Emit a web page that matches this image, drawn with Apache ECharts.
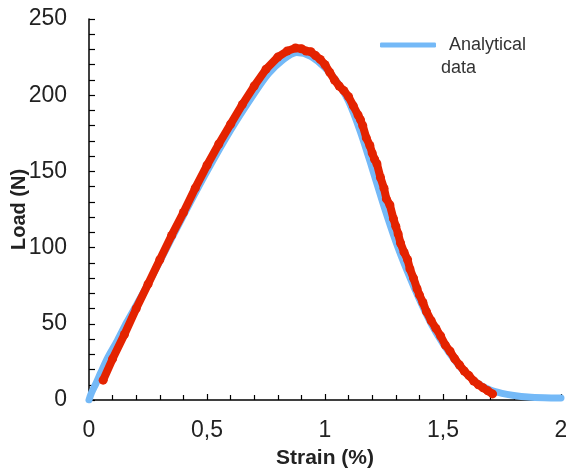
<!DOCTYPE html>
<html>
<head>
<meta charset="utf-8">
<script src="https://cdn.jsdelivr.net/npm/echarts@6/dist/echarts.min.js"></script>
<style>
  html, body { margin: 0; padding: 0; background: #fff; }
  #chart { width: 566px; height: 470px; }
</style>
</head>
<body>
<div id="chart"></div>
<script>
// strain (%) / load (N)
const analyticalStrain = [0, 0.01, 0.03, 0.05, 0.08, 0.12, 0.16, 0.2, 0.25, 0.3, 0.4, 0.5, 0.6, 0.7, 0.76, 0.82, 0.88, 0.94, 1.0, 1.05, 1.1, 1.15, 1.2, 1.25, 1.3, 1.35, 1.4, 1.45, 1.5, 1.55, 1.6, 1.65, 1.7, 1.75, 1.8, 1.86, 1.93, 2.0];
const analyticalLoad   = [0, 4.5, 11, 18, 28, 39, 51, 62, 76, 91, 121, 150, 177, 201, 214, 223, 228, 225.5, 218, 209, 196, 176, 152, 127, 104, 84, 66, 50, 37, 26, 17, 10.5, 6.5, 4.3, 3, 2, 1.5, 1.3];

const testStrain = [0.06, 0.1, 0.15, 0.2, 0.25, 0.3, 0.35, 0.4, 0.45, 0.5, 0.55, 0.6, 0.65, 0.7, 0.75, 0.8, 0.84, 0.875,
  0.9, 0.92, 0.94, 0.96, 0.98, 1.0, 1.02, 1.04, 1.06, 1.08, 1.1, 1.12, 1.14, 1.15, 1.16, 1.175, 1.19, 1.2, 1.21, 1.22, 1.235,
  1.25, 1.26, 1.275, 1.29, 1.3, 1.31, 1.32, 1.335, 1.35, 1.36, 1.375, 1.39, 1.4, 1.415, 1.43, 1.45, 1.47, 1.49, 1.51, 1.53,
  1.55, 1.57, 1.59, 1.61, 1.63, 1.65, 1.67, 1.69, 1.71];
const testLoad = [13, 27, 43, 60, 76, 92, 108, 123, 139, 154, 168, 181, 194, 206, 217, 225, 229, 231,
  230.5, 229, 228.5, 226, 223.5, 220, 215, 210, 206, 203, 199, 193, 187, 184, 180, 172, 167, 162, 158, 155, 146,
  139, 132, 128, 119, 114, 109, 103, 97, 92, 86, 80, 73, 69, 64, 58, 52, 47, 42, 36, 32,
  27, 23, 19, 16, 12.5, 10, 8, 6, 4];

const xTicks = [0, 0.5, 1, 1.5, 2];
const yTicks = [0, 50, 100, 150, 200, 250];

const pair = (xs, ys) => xs.map((x, i) => [x, ys[i]]);

const chart = echarts.init(document.getElementById('chart'));
const fam = 'Liberation Sans, Arial, sans-serif';
const axisFont = { fontFamily: fam, fontSize: 23, color: '#222' };

chart.setOption({
  animation: false,
  backgroundColor: '#fff',
  grid: { left: 89, right: 5, top: 19, bottom: 70, outerBoundsMode: 'none', containLabel: false },
  legend: {
    data: ['Analytical data'],
    left: 380,
    top: 13,
    padding: 0,
    itemWidth: 56,
    itemHeight: 5,
    icon: 'roundRect',
    formatter: () => '{a| }\n{a|Analytical}\n{b|data}',
    textStyle: {
      fontFamily: fam,
      fontSize: 18,
      color: '#333',
      rich: {
        a: { fontSize: 18, lineHeight: 23, padding: [0, 0, 0, 8], color: '#333' },
        b: { fontSize: 18, lineHeight: 23, color: '#333' }
      }
    }
  },
  xAxis: {
    type: 'value',
    min: xTicks[0],
    max: xTicks[xTicks.length - 1],
    interval: 0.5,
    name: 'Strain (%)',
    nameLocation: 'middle',
    nameGap: 48,
    nameMoveOverlap: false,
    nameTextStyle: { fontFamily: fam, fontSize: 21, fontWeight: 'bold', color: '#222' },
    axisLine: { lineStyle: { color: '#000', width: 1.5 } },
    axisTick: { inside: true, length: 6, lineStyle: { color: '#000', width: 1.2 } },
    minorTick: { show: true, splitNumber: 5, length: 5, lineStyle: { color: '#000', width: 1.2 } },
    axisLabel: Object.assign({ margin: 19, formatter: v => String(v).replace('.', ',') }, axisFont),
    splitLine: { show: false }
  },
  yAxis: {
    type: 'value',
    min: yTicks[0],
    max: yTicks[yTicks.length - 1],
    interval: 50,
    name: 'Load (N)',
    nameLocation: 'middle',
    nameGap: 60,
    nameRotate: 90,
    nameMoveOverlap: false,
    nameTextStyle: { fontFamily: fam, fontSize: 20, fontWeight: 'bold', color: '#222' },
    axisLine: { show: true, lineStyle: { color: '#000', width: 1.5 } },
    axisTick: { show: true, inside: true, length: 6, lineStyle: { color: '#000', width: 1.2 } },
    minorTick: { show: true, splitNumber: 5, length: 6, lineStyle: { color: '#000', width: 1.2 } },
    axisLabel: Object.assign({ margin: 22 }, axisFont),
    splitLine: { show: false }
  },
  series: [
    {
      name: 'Analytical data',
      type: 'line',
      data: pair(analyticalStrain, analyticalLoad),
      smooth: 0.3,
      showSymbol: false,
      color: '#74b9f7',
      lineStyle: { width: 7, color: '#74b9f7', cap: 'round' }
    },
    {
      name: 'Experimental data',
      type: 'line',
      data: pair(testStrain, testLoad),
      symbol: 'circle',
      symbolSize: 9,
      showAllSymbol: true,
      color: '#e42300',
      itemStyle: { color: '#e42300' },
      lineStyle: { width: 8, color: '#e42300' }
    }
  ]
});
</script>
</body>
</html>
